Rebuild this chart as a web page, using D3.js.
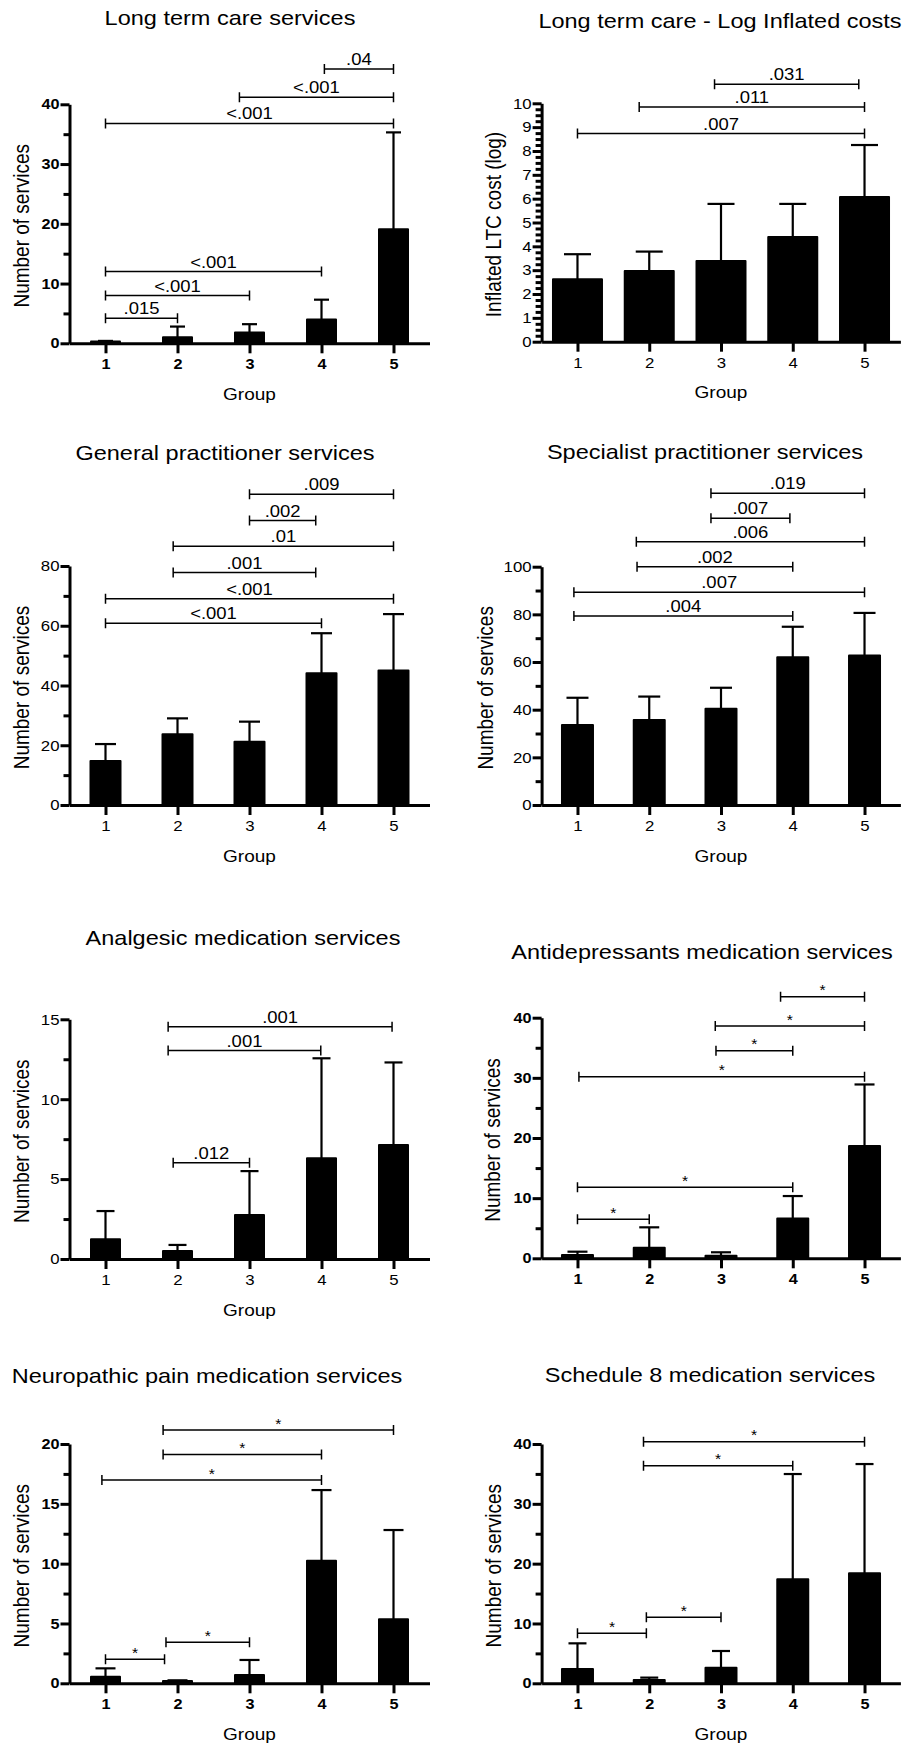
<!DOCTYPE html>
<html>
<head>
<meta charset="utf-8">
<script src="https://cdn.jsdelivr.net/npm/d3@7"></script>
<style>
  body { margin: 0; background: #fff; }
  svg { display: block; font-family: "Liberation Sans", Arial, sans-serif; }
  .axis path, .axis line { stroke: #000; stroke-width: 3; }
  .axis text { fill: #000; }
  .bar { fill: #000; stroke: #000; stroke-width: 2; stroke-linejoin: round; }
  .err { stroke: #000; stroke-width: 2.2; fill: none; }
  .brk { stroke: #000; stroke-width: 1.5; fill: none; }
</style>
</head>
<body>
<svg width="902" height="1749"></svg>
<script>
var groups = [1, 2, 3, 4, 5];

var titles = [
  "Long term care services",
  "Long term care - Log Inflated costs",
  "General practitioner services",
  "Specialist practitioner services",
  "Analgesic medication services",
  "Antidepressants medication services",
  "Neuropathic pain medication services",
  "Schedule 8 medication services"
];
var yTitles = [
  "Number of services", "Inflated LTC cost (log)", "Number of services", "Number of services",
  "Number of services", "Number of services", "Number of services", "Number of services"
];
var yMax   = [40, 10, 80, 100, 15, 40, 20, 40];
var yMajor = [10, 1, 20, 20, 5, 10, 5, 10];
var yMinor = [5, 0.25, 10, 10, 2.5, 5, 2.5, 5];
var boldTicks = [true, false, false, false, false, true, true, true];
var showGroup = [true, true, true, true, true, false, true, true];

// mean and upper SD for groups 1..5
var ltcMean = [0.3, 1.0, 1.8, 4.0, 19.1];
var ltcSD   = [0.1, 1.8, 1.4, 3.3, 16.2];
var logMean = [2.62, 2.97, 3.39, 4.39, 6.07];
var logSD   = [1.05, 0.81, 2.39, 1.39, 2.18];
var gpMean  = [14.7, 23.7, 21.2, 44.1, 45.0];
var gpSD    = [5.7, 5.3, 6.7, 13.4, 18.9];
var specMean = [33.6, 35.7, 40.4, 62.0, 62.7];
var specSD   = [11.4, 9.8, 8.8, 12.8, 17.9];
var analgMean = [1.23, 0.5, 2.75, 6.3, 7.13];
var analgSD   = [1.77, 0.38, 2.75, 6.26, 5.17];
var antidMean = [0.55, 1.77, 0.44, 6.6, 18.66];
var antidSD   = [0.55, 3.38, 0.56, 3.75, 10.24];
var neuroMean = [0.55, 0.19, 0.7, 10.25, 5.35];
var neuroSD   = [0.7, 0.06, 1.25, 5.9, 7.46];
var s8Mean = [2.39, 0.55, 2.6, 17.38, 18.38];
var s8SD   = [4.29, 0.4, 2.8, 17.6, 18.27];

// comparisons: [from group, to group, level (y units), label]
var ltcPairs = [[4.04, 5, 45.9, ".04"], [2.86, 5, 41.2, "<.001"], [1, 5, 36.8, "<.001"],
                [1, 4, 12.0, "<.001"], [1, 3, 8.0, "<.001"], [1, 2, 4.2, ".015"]];
var logPairs = [[2.91, 4.92, 10.8, ".031"], [1.86, 5, 9.85, ".011"], [1, 5, 8.73, ".007"]];
var gpPairs = [[3, 5, 104.0, ".009"], [3, 3.92, 95.2, ".002"], [1.94, 5, 86.6, ".01"],
               [1.94, 3.92, 77.8, ".001"], [1, 5, 69.0, "<.001"], [1, 4, 60.8, "<.001"]];
var specPairs = [[2.86, 5, 130.8, ".019"], [2.86, 3.96, 120.3, ".007"], [1.82, 5, 110.5, ".006"],
                 [1.83, 4, 100.0, ".002"], [0.95, 5, 89.3, ".007"], [0.95, 4, 79.3, ".004"]];
var analgPairs = [[1.87, 4.98, 14.54, ".001"], [1.87, 3.99, 13.04, ".001"], [1.94, 3, 6.03, ".012"]];
var antidPairs = [[3.83, 5, 43.5, "*"], [2.92, 5, 38.6, "*"], [2.93, 4, 34.5, "*"],
                  [1.02, 5, 30.2, "*"], [1, 4, 11.8, "*"], [1, 2, 6.5, "*"]];
var neuroPairs = [[1.8, 5, 21.17, "*"], [1.8, 4, 19.13, "*"], [0.95, 4, 16.99, "*"],
                  [1.84, 3, 3.43, "*"], [1, 1.82, 2.0, "*"]];
var s8Pairs = [[1.92, 5, 40.38, "*"], [1.92, 4, 36.37, "*"], [1.96, 3, 11.03, "*"], [1, 1.96, 8.36, "*"]];

var means = [ltcMean, logMean, gpMean, specMean, analgMean, antidMean, neuroMean, s8Mean];
var sds = [ltcSD, logSD, gpSD, specSD, analgSD, antidSD, neuroSD, s8SD];
var pairs = [ltcPairs, logPairs, gpPairs, specPairs, analgPairs, antidPairs, neuroPairs, s8Pairs];

// layout (pixels)
var SX = 1.12; // text is a bit wide in the original
var colX = [[69.5, 429.5], [541.6, 900.4]];
var layout = [
  {col: 0, y0: 343.3, y1: 104.3, tx: 230, ty: 25, lx: 28.5, barW: 31, capW: 15},
  {col: 1, y0: 341.7, y1: 103.3, tx: 720, ty: 28, lx: 501, barW: 51, capW: 27},
  {col: 0, y0: 805, y1: 566, tx: 225, ty: 460, lx: 28.5, barW: 32, capW: 21},
  {col: 1, y0: 805, y1: 566.7, tx: 705, ty: 459, lx: 493, barW: 33, capW: 22},
  {col: 0, y0: 1259, y1: 1019.3, tx: 243, ty: 945, lx: 28.5, barW: 31, capW: 18},
  {col: 1, y0: 1258.3, y1: 1017.7, tx: 702, ty: 959, lx: 499.5, barW: 33, capW: 20},
  {col: 0, y0: 1683.3, y1: 1444, tx: 207, ty: 1383, lx: 28.5, barW: 31, capW: 20},
  {col: 1, y0: 1683.3, y1: 1444, tx: 710, ty: 1382, lx: 501, barW: 33, capW: 18}
];

var svg = d3.select("svg");

function label(g, x, y, s, size, weight) {
  return g.append("text")
    .attr("transform", "translate(" + x + "," + y + ") scale(" + SX + ",1)")
    .attr("text-anchor", "middle")
    .style("font-size", size + "px")
    .style("font-weight", weight || "normal")
    .text(s);
}

function fixTicks(ax, size, bold) {
  ax.attr("font-family", null).attr("font-size", size).attr("font-weight", bold ? "bold" : "normal");
  ax.selectAll(".tick text").each(function () {
    var t = d3.select(this);
    t.attr("x", (+t.attr("x") || 0) / SX).attr("transform", "scale(" + SX + ",1)");
  });
}

layout.forEach(function (L, i) {
  var g = svg.append("g");
  var xr = colX[L.col];
  var x = d3.scaleLinear().domain([0.5, 5.5]).range(xr);
  var y = d3.scaleLinear().domain([0, yMax[i]]).range([L.y0, L.y1]);
  var bold = boldTicks[i];
  var tickSize = bold ? 14.5 : 15;

  label(g, L.tx, L.ty, titles[i], 21);

  g.append("text")
    .attr("transform", "translate(" + L.lx + "," + ((L.y0 + L.y1) / 2 + 2) + ") rotate(-90) scale(1," + SX + ")")
    .attr("text-anchor", "middle")
    .style("font-size", "19px")
    .text(yTitles[i]);

  if (showGroup[i]) label(g, x(3), L.y0 + 56.5, "Group", 17);

  var data = groups.map(function (k, j) { return {grp: k, mean: means[i][j], sd: sds[i][j]}; });

  // error bars (upper only)
  var eb = g.selectAll(".eb").data(data).enter().append("g");
  eb.append("line").attr("class", "err")
    .attr("x1", function (d) { return x(d.grp); }).attr("x2", function (d) { return x(d.grp); })
    .attr("y1", function (d) { return y(d.mean); }).attr("y2", function (d) { return y(d.mean + d.sd); });
  eb.append("line").attr("class", "err")
    .attr("x1", function (d) { return x(d.grp) - L.capW / 2; }).attr("x2", function (d) { return x(d.grp) + L.capW / 2; })
    .attr("y1", function (d) { return y(d.mean + d.sd); }).attr("y2", function (d) { return y(d.mean + d.sd); });

  g.selectAll(".bar").data(data).enter().append("rect")
    .attr("class", "bar")
    .attr("x", function (d) { return x(d.grp) - L.barW / 2 + 1; })
    .attr("width", L.barW - 2)
    .attr("y", function (d) { return y(d.mean); })
    .attr("height", function (d) { return y(0) - y(d.mean); });

  // comparison brackets
  pairs[i].forEach(function (p) {
    var x1 = x(p[0]), x2 = x(p[1]), yy = y(p[2]);
    g.append("path").attr("class", "brk")
      .attr("d", "M" + x1 + "," + yy + "H" + x2 +
                 "M" + x1 + "," + (yy - 5) + "V" + (yy + 5) +
                 "M" + x2 + "," + (yy - 5) + "V" + (yy + 5));
    if (p[3] === "*") label(g, (x1 + x2) / 2, yy - 1.5, p[3], 14);
    else label(g, (x1 + x2) / 2, yy - 4, p[3], 16.5);
  });

  // axes
  var minorVals = d3.range(0, yMax[i] + 1e-9, yMinor[i]).filter(function (v) {
    return Math.abs(v / yMajor[i] - Math.round(v / yMajor[i])) > 1e-6;
  });
  g.append("g").attr("class", "axis")
    .attr("transform", "translate(" + xr[0] + ",0)")
    .call(d3.axisLeft(y).tickValues(minorVals).tickSize(6).tickFormat(""))
    .select(".domain").remove();

  var ya = g.append("g").attr("class", "axis")
    .attr("transform", "translate(" + xr[0] + ",0)")
    .call(d3.axisLeft(y).tickValues(d3.range(0, yMax[i] + 1e-9, yMajor[i]))
      .tickSize(9).tickSizeOuter(0).tickPadding(1).tickFormat(d3.format("d")));
  fixTicks(ya, tickSize, bold);

  var xa = g.append("g").attr("class", "axis")
    .attr("transform", "translate(0," + L.y0 + ")")
    .call(d3.axisBottom(x).tickValues(groups).tickSize(10).tickSizeOuter(0).tickPadding(5.7)
      .tickFormat(d3.format("d")));
  fixTicks(xa, tickSize, bold);
});
</script>
</body>
</html>
